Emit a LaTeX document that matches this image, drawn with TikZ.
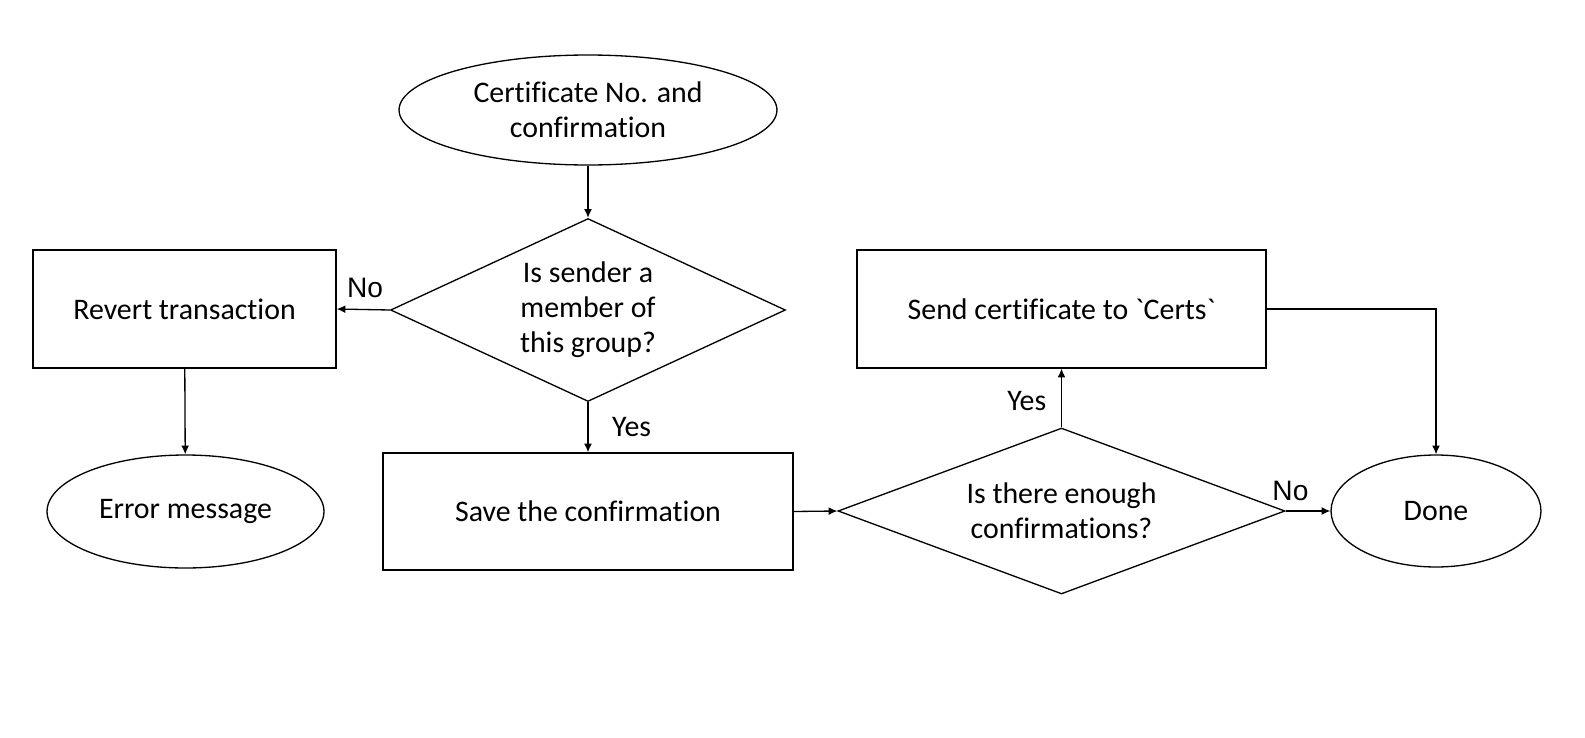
\documentclass[tikz,border=0pt]{standalone}
\usepackage{fontspec}
\newfontfamily\calibri{Carlito}[Ligatures=NoCommon]
\newfontfamily\labfont{Liberation Sans}
\usetikzlibrary{arrows.meta}
\usetikzlibrary{shapes.geometric}

\begin{document}
\begin{tikzpicture}[x=0.02cm,y=-0.02cm,line width=0.75pt,
	every node/.style={font=\calibri\fontsize{17}{20}\selectfont,align=center},
	flowbox/.style={draw,rectangle,inner sep=0pt},
	endpoint/.style={draw,ellipse,inner sep=0pt},
	decision/.style={draw,diamond,inner sep=0pt},
	arrow/.style={-{Latex[length=5pt,width=4.5pt]}},
	answer/.style={font=\labfont\fontsize{16}{18}\selectfont}]
	
	\useasboundingbox (0,0) rectangle (1585,737);
	
	\node[endpoint,minimum width=7.56cm,minimum height=2.2cm] (start) at (588,110) {Certificate No. and\\confirmation};
	\node[decision,aspect=2.2,minimum width=7.9cm,minimum height=3.66cm] (member) at (588,310) {Is sender a\\member of\\this group?};
	\node[flowbox,minimum width=6.06cm,minimum height=2.36cm] (revert) at (184.5,309) {Revert transaction};
	\node[endpoint,minimum width=5.54cm,minimum height=2.26cm] (error) at (185.5,511.5) {Error message};
	\node[flowbox,minimum width=8.2cm,minimum height=2.34cm] (save) at (588,511.5) {Save the confirmation};
	\node[decision,aspect=2.7,minimum width=8.94cm,minimum height=3.32cm] (enough) at (1061.5,511) {Is there enough\\confirmations?};
	\node[flowbox,minimum width=8.18cm,minimum height=2.36cm] (send) at (1061.5,309) {Send certificate to `Certs`};
	\node[endpoint,minimum width=4.2cm,minimum height=2.24cm] (done) at (1436,511) {Done};
	
	\draw[arrow] (start) -- (member);
	\draw[arrow] (member.west) -- node[answer,above=3pt,xshift=1] {No} (revert.east);
	\draw[arrow] (revert) -- (error);
	\draw[arrow] (member.south) -- node[right=10pt] {Yes} (save.north);
	\draw[arrow] (save.east) -- (enough.west);
	\draw[arrow] (enough.north) -- node[left=5pt,yshift=-2] {Yes} (send.south);
	\draw[arrow] (enough.east) -- node[answer,above=2pt,xshift=-10] {No} (done.west);
	\draw[arrow] (send.east) -| (done.north);
\end{tikzpicture}
\end{document}
